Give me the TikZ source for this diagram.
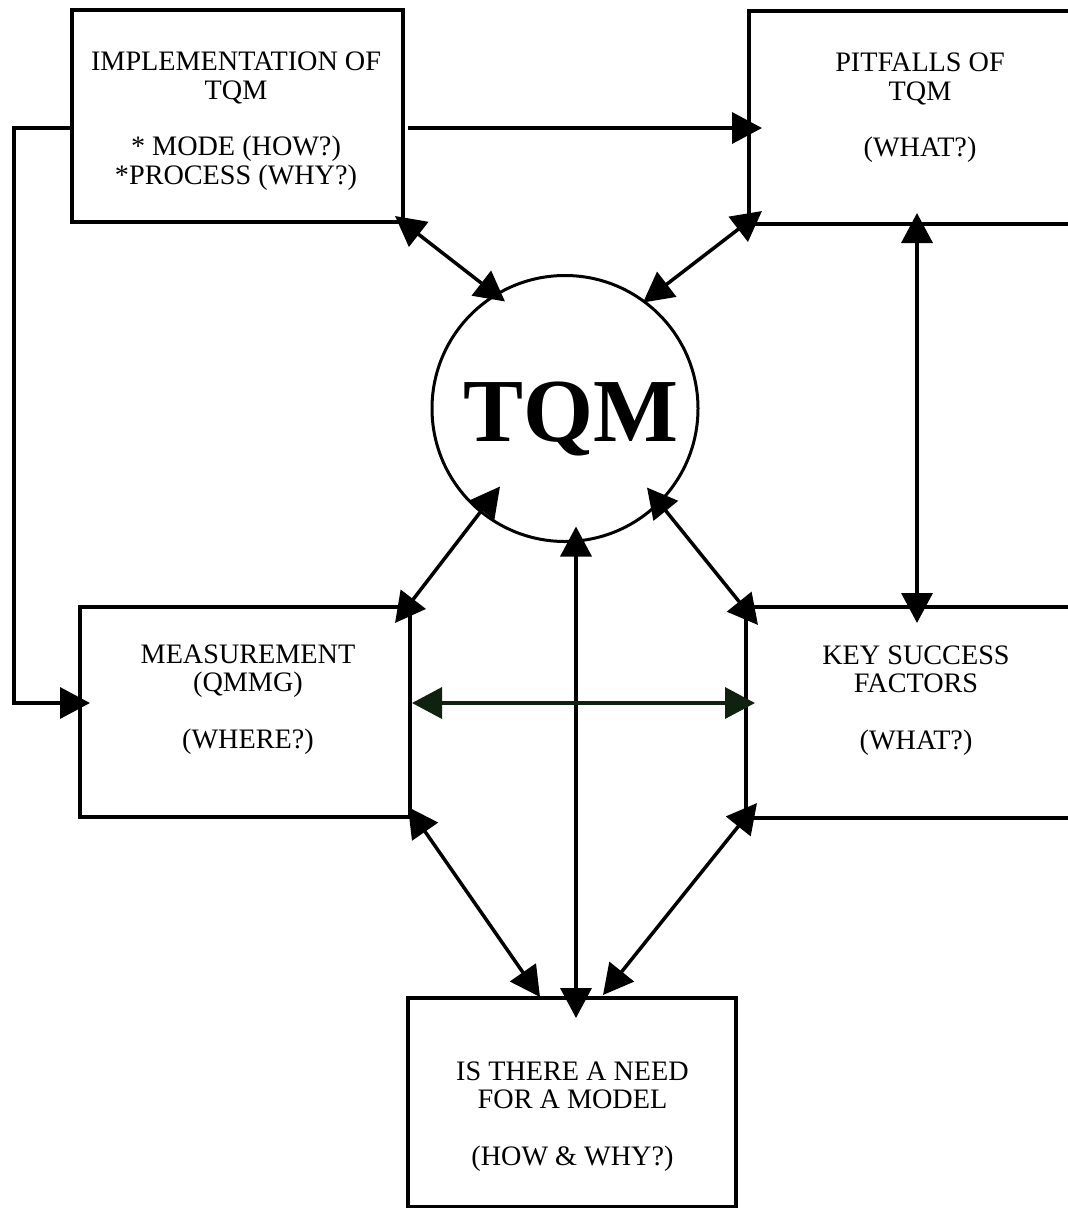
\documentclass[tikz,border=0pt]{standalone}
\usepackage{fontspec}
\setmainfont{Liberation Serif}
\usetikzlibrary{arrows.meta,calc}
\definecolor{scangreen}{rgb}{0.06,0.13,0.06}
\begin{document}
\begin{tikzpicture}[x=1pt,y=-1pt,
  conn/.style={line width=3.5pt, black},
  dbl/.style={conn, {Triangle[length=30pt,width=31pt]}-{Triangle[length=30pt,width=31pt]}},
  one/.style={conn, -{Triangle[length=30pt,width=31pt]}},
  boxshape/.style={draw, line width=3.8pt, rectangle, inner sep=0pt, outer sep=0pt},
  boxtext/.style={font=\fontsize{28.2}{28.3}\selectfont, align=center, inner sep=0pt, anchor=north},
]
\useasboundingbox (0,0) rectangle (1068,1208);

% boxes
\node[boxshape, minimum width=331pt, minimum height=212pt] (b1) at (237.5,116) {};
\node[boxshape, minimum width=351pt, minimum height=213pt] (b2) at (924.5,117.5) {};
\node[boxshape, minimum width=330pt, minimum height=210pt] (b3) at (245,712) {};
\node[boxshape, minimum width=354pt, minimum height=211pt] (b4) at (923,712.5) {};
\node[boxshape, minimum width=328pt, minimum height=209pt] (b5) at (572,1102.5) {};

% circle
\node[draw, circle, line width=3pt, minimum size=266pt, inner sep=0pt] (tqm) at (565,408.5) {};
\node[font=\bfseries\fontsize{90}{90}\selectfont, inner sep=0pt, anchor=base] (tqmlabel) at (571,441) {TQM};

% texts
\node[boxtext] (t1) at (236,50.9) {\strut IMPLEMENTATION OF\\TQM\\[28.3pt]{}* MODE (HOW?)\\{}*PROCESS (WHY?)};
\node[boxtext] (t2) at (920,51.9) {\strut PITFALLS OF\\TQM\\[28.3pt](WHAT?)};
\node[boxtext] (t3) at (248,643.2) {\strut MEASUREMENT\\(QMMG)\\[28.3pt](WHERE?)};
\node[boxtext] (t4) at (916,644.2) {\strut KEY SUCCESS\\FACTORS\\[28.3pt](WHAT?)};
\node[boxtext] (t5) at (572.5,1060.2) {\strut IS THERE A NEED\\FOR A MODEL\\[28.3pt](HOW \& WHY?)};

% connectors
\draw[conn] ($(b1.west)+(0,12)$) -| (14,400) coordinate (loopcorner);
\draw[one] (loopcorner) |- ($(b3.west)+(10,-9)$);
\draw[one] ($(b1.east)+(5,12)$) -- ($(b2.west)+(13,10.5)$);
\draw[dbl] ($(b1.south east)+(-8,-6)$) -- ($(tqm.center)+(-60,-107)$);
\draw[dbl] ($(b2.south west)+(13,-13)$) -- ($(tqm.center)+(78,-106)$);
\draw[dbl] ($(b2.south)+(-7.5,-11)$) -- ($(b4.north)+(-6,16)$);
\draw[dbl] ($(tqm.center)+(-65,78)$) -- ($(b3.north east)+(-15,16)$);
\draw[dbl] ($(tqm.center)+(82,79)$) -- ($(b4.north west)+(12,18)$);
\draw[dbl] ($(tqm.center)+(11,118)$) -- ($(b5.north)+(4,20)$);
\draw[dbl, scangreen] ($(b3.east)+(2,-9)$) -- ($(b4.west)+(9,-9.5)$);
\draw[dbl] ($(b3.south east)+(-2,-10)$) -- ($(b5.north)+(-32,-1)$);
\draw[dbl] ($(b4.south west)+(11,-15)$) -- ($(b5.north)+(31,-3)$);
\end{tikzpicture}
\end{document}
